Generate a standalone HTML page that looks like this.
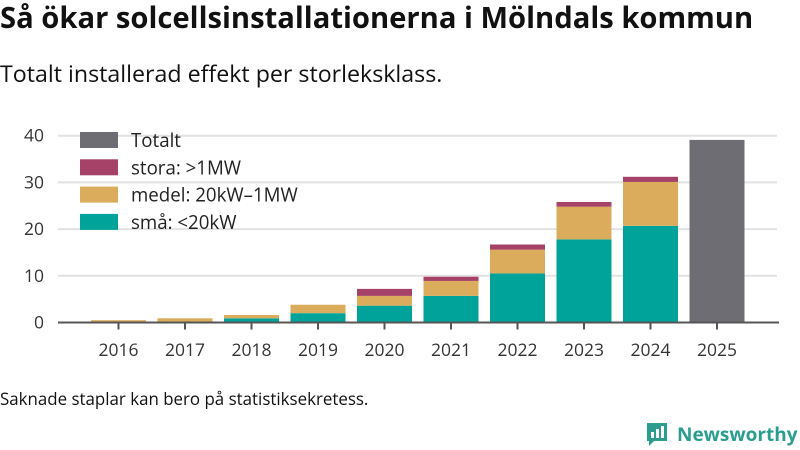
<!DOCTYPE html>
<html><head><meta charset="utf-8"><style>
body{margin:0;width:800px;height:450px;background:#fff;font-family:"Open Sans","Liberation Sans","DejaVu Sans",sans-serif;color:#111;overflow:hidden;position:relative}
.t{position:absolute;left:0;white-space:nowrap;line-height:1}
</style></head><body>
<div class="t" style="top:3px;font-size:29.2px;font-weight:bold">Så ökar solcellsinstallationerna i Mölndals kommun</div>
<div class="t" style="top:62px;font-size:23.2px">Totalt installerad effekt per storleksklass.</div>
<svg id="c" width="800" height="450" style="position:absolute;left:0;top:0"></svg>
<div class="t" style="top:391px;font-size:16.9px">Saknade staplar kan bero på statistiksekretess.</div>
<div style="position:absolute;left:645px;top:421px;display:flex;align-items:center">
<svg width="24" height="26"><path d="M2 2h20v18H9l-5 5v-5H2z" fill="#2a9d8f"/><rect x="6" y="11" width="3" height="6" fill="#fff"/><rect x="11" y="8" width="3" height="9" fill="#fff"/><rect x="16" y="5" width="3" height="12" fill="#fff"/></svg>
<span style="font-size:19px;font-weight:bold;color:#2a9d8f;margin-left:8px">Newsworthy</span></div>
<script>
const years=["2016","2017","2018","2019","2020","2021","2022","2023","2024","2025"];
const sma=[0.1,0.2,0.9,2.0,3.6,5.7,10.5,17.8,20.7,0];
const medel=[0.4,0.7,0.7,1.8,2.1,3.2,5.1,7.0,9.4,0];
const stora=[0,0,0,0,1.5,0.9,1.1,1.0,1.1,0];
const totalt=[0,0,0,0,0,0,0,0,0,39.1];
const yTicks=[0,10,20,30,40];
const NS="http://www.w3.org/2000/svg",svg=document.getElementById('c');
const y0=322.5,pu=4.67,y=v=>y0-v*pu,x=i=>118.5+i*66.5,bw=55;
function mk(t,a){const e=document.createElementNS(NS,t);for(const k in a)e.setAttribute(k,a[k]);svg.appendChild(e);return e;}
yTicks.forEach(v=>{if(v>0){const g=mk('line',{x1:58,x2:777,y1:y(v),y2:y(v),stroke:'#e2e2e2','stroke-width':2});

}
const t=mk('text',{x:44,y:y(v)+6,'text-anchor':'end','font-size':17.5,fill:'#333'});t.textContent=v;

});
const series=[[sma,'#00a39a','sma'],[medel,'#dbac5b','medel'],[stora,'#a64167','stora'],[totalt,'#6e6d73','totalt']];
years.forEach((yr,i)=>{let acc=0;series.forEach(([arr,col,nm])=>{const v=arr[i];if(v>0){const r=mk('rect',{x:x(i)-bw/2,y:y(acc+v),width:bw,height:v*pu,fill:col});

acc+=v;}});
const tk=mk('line',{x1:x(i),x2:x(i),y1:y0,y2:y0+7,stroke:'#555','stroke-width':2});


const t=mk('text',{x:x(i),y:356,'text-anchor':'middle','font-size':17.5,fill:'#333'});t.textContent=yr;

});
const ax=mk('line',{x1:58,x2:779,y1:y0,y2:y0,stroke:'#555','stroke-width':2});


const leg=[['Totalt','#6e6d73'],['stora: >1MW','#a64167'],['medel: 20kW–1MW','#dbac5b'],['små: <20kW','#00a39a']];
leg.forEach(([l,c],k)=>{const yy=132+k*27.3;const r=mk('rect',{x:80,y:yy,width:38,height:16,fill:c});


const t=mk('text',{x:131,y:yy+15,'font-size':18.7,fill:'#222'});t.textContent=l;

});
</script>
</body></html>
